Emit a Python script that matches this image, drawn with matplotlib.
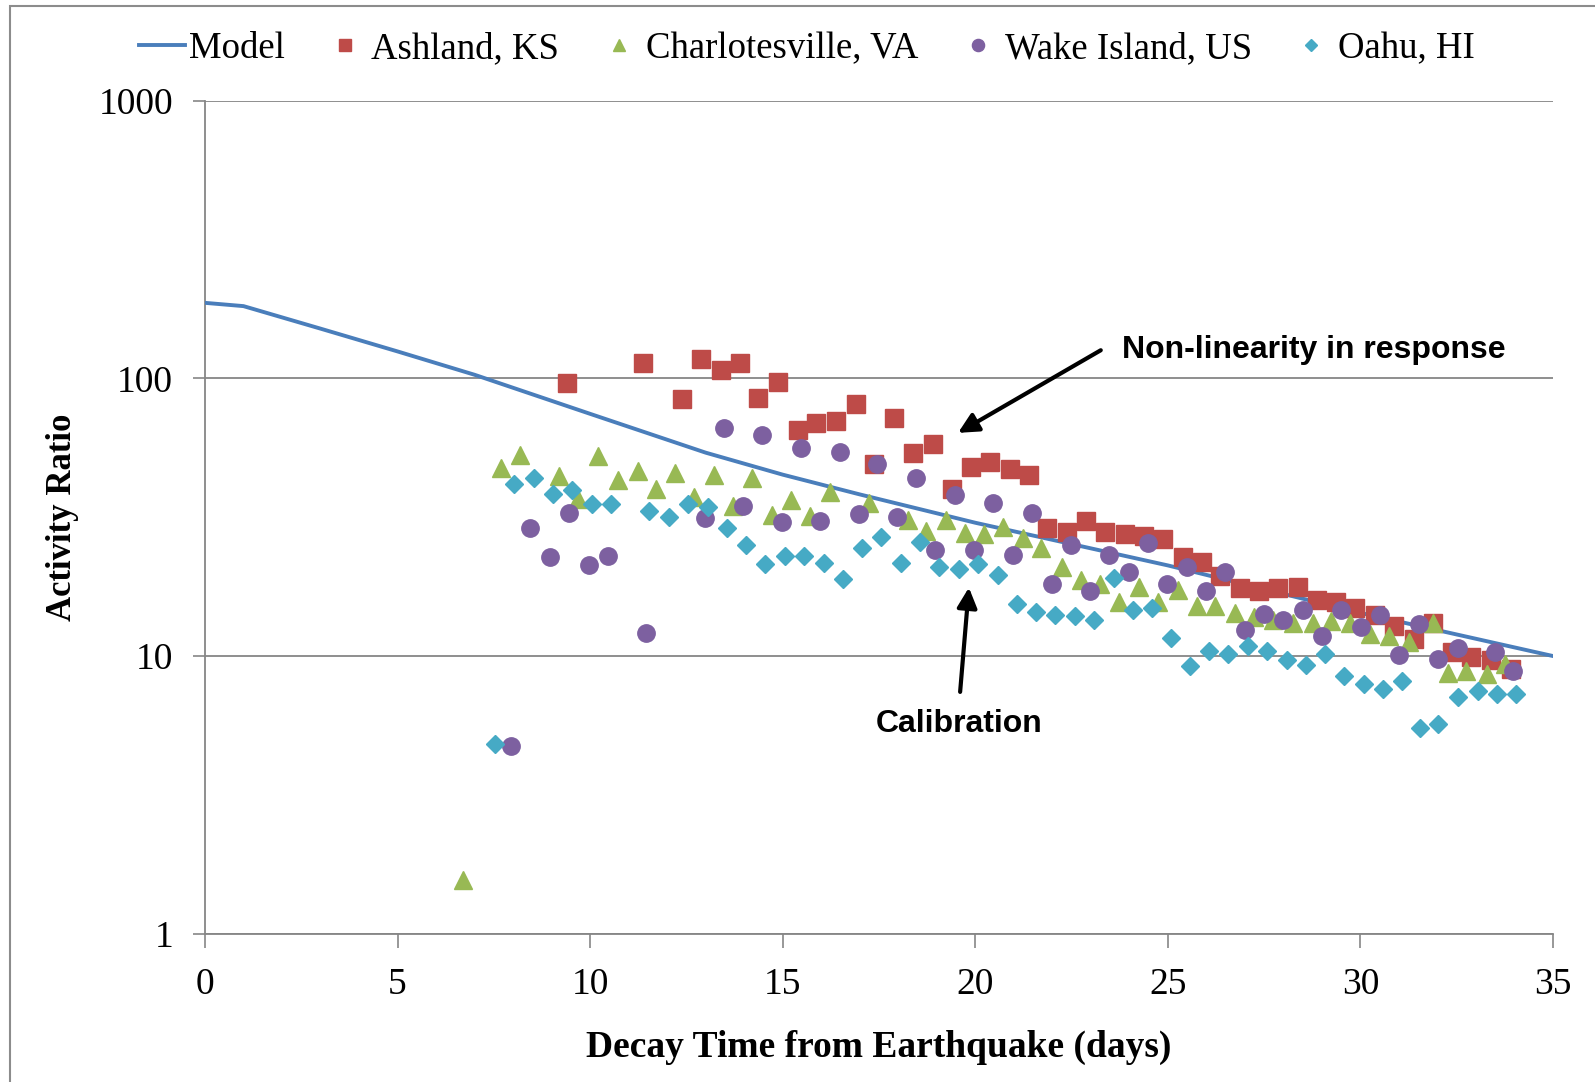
import matplotlib
matplotlib.use("Agg")
import matplotlib.pyplot as plt
from matplotlib.patches import Rectangle

# Model curve (days, activity ratio)
model_x = [0, 1, 3, 5, 7, 10, 13, 15, 17, 20, 25, 30, 35]
model_y = [187, 182, 151, 125, 103, 74.5, 54, 45, 38.2, 30.2, 21.2, 14.3, 10]

ashland_x = [9.40, 11.38, 12.39, 12.89, 13.39, 13.89, 14.37, 14.87, 15.40, 15.87,
             16.38, 16.90, 17.38, 17.88, 18.38, 18.89, 19.39, 19.89, 20.39, 20.89,
             21.40, 21.87, 22.37, 22.87, 23.38, 23.88, 24.38, 24.88, 25.38, 25.88,
             26.36, 26.86, 27.36, 27.87, 28.37, 28.87, 29.37, 29.87, 30.38, 30.88,
             31.38, 31.88, 32.38, 32.88, 33.39, 33.91]
ashland_y = [95.9, 114, 84, 117, 107, 114, 85, 97, 65, 69,
             70, 81, 49, 72, 54, 58, 40, 48, 50, 47,
             45, 29, 28, 30.6, 28, 27.6, 27, 26.5, 22.8, 21.9,
             19.5, 17.6, 17.2, 17.6, 17.7, 15.9, 15.7, 14.9, 14.1, 12.8,
             11.5, 13.2, 10.3, 9.9, 9.7, 9.0]

charl_x = [6.71, 7.69, 8.19, 9.19, 9.69, 10.20, 10.72, 11.23, 11.70, 12.20,
           12.70, 13.21, 13.71, 14.21, 14.71, 15.21, 15.70, 16.22, 17.25, 18.25,
           18.73, 19.23, 19.73, 20.23, 20.73, 21.24, 21.71, 22.24, 22.74, 23.24,
           23.72, 24.25, 24.75, 25.25, 25.75, 26.23, 26.73, 27.23, 27.73, 28.24,
           28.76, 29.24, 29.74, 30.24, 30.75, 31.25, 31.88, 32.28, 32.75, 33.28,
           33.76]
charl_y = [1.56, 47.6, 52.8, 44.6, 36.9, 52.4, 43.0, 46.3, 39.9, 45.6,
           37.5, 44.8, 34.7, 43.6, 32.3, 36.6, 32.0, 38.9, 35.6, 30.9,
           28.3, 30.9, 27.8, 27.5, 29.2, 26.6, 24.5, 21.0, 18.8, 18.2,
           15.6, 17.7, 15.6, 17.3, 15.1, 15.2, 14.3, 13.8, 13.5, 13.2,
           13.2, 13.4, 13.2, 12.0, 11.8, 11.2, 13.2, 8.7, 8.8, 8.6,
           9.4]

wake_x = [7.95, 8.45, 8.95, 9.46, 9.96, 10.46, 11.46, 12.97, 13.47, 13.97,
          14.47, 14.98, 15.48, 15.98, 16.48, 16.98, 17.46, 17.96, 18.46, 18.96,
          19.47, 19.97, 20.47, 20.97, 21.47, 21.98, 22.48, 22.98, 23.48, 23.98,
          24.48, 24.99, 25.49, 25.99, 26.49, 27.00, 27.50, 28.00, 28.50, 29.00,
          29.50, 30.01, 30.51, 31.01, 31.51, 32.01, 32.52, 33.49, 33.97]
wake_y = [4.76, 29.0, 22.7, 32.8, 21.2, 22.9, 12.1, 31.5, 66.2, 34.8,
          62.3, 30.5, 55.9, 30.7, 54.5, 32.6, 49.2, 31.8, 43.8, 24.0,
          37.9, 24.0, 35.7, 23.2, 32.8, 18.2, 25.1, 17.2, 23.2, 20.1,
          25.5, 18.2, 21.0, 17.2, 20.1, 12.4, 14.2, 13.5, 14.6, 11.8,
          14.6, 12.7, 14.1, 10.1, 13.0, 9.75, 10.7, 10.3, 8.85]

oahu_x = [7.53, 8.03, 8.53, 9.03, 9.54, 10.04, 10.54, 11.54, 12.04, 12.55,
          13.05, 13.55, 14.05, 14.55, 15.06, 15.56, 16.06, 16.56, 17.06, 17.56,
          18.07, 18.57, 19.07, 19.57, 20.07, 20.58, 21.08, 21.58, 22.08, 22.58,
          23.09, 23.59, 24.09, 24.59, 25.07, 25.57, 26.07, 26.57, 27.07, 27.58,
          28.08, 28.58, 29.08, 29.58, 30.08, 30.59, 31.09, 31.54, 32.01, 32.54,
          33.04, 33.54, 34.05]
oahu_y = [4.84, 41.6, 43.8, 38.2, 39.5, 35.4, 35.4, 33.4, 31.8, 35.4,
          34.5, 29.0, 25.1, 21.5, 22.9, 22.9, 21.7, 19.0, 24.4, 26.8,
          21.7, 25.7, 21.0, 20.5, 21.5, 19.6, 15.4, 14.4, 14.1, 13.9,
          13.5, 19.1, 14.7, 14.9, 11.6, 9.2, 10.4, 10.2, 10.9, 10.4,
          9.7, 9.3, 10.2, 8.45, 7.96, 7.64, 8.1, 5.5, 5.7, 7.1,
          7.5, 7.3, 7.3]

x_ticks = [0, 5, 10, 15, 20, 25, 30, 35]
y_ticks = [1, 10, 100, 1000]
y_tick_labels = ["1", "10", "100", "1000"]

serif = "Liberation Serif"
sans = "Liberation Sans"

fig = plt.figure(figsize=(15.95, 10.82), dpi=100)
ax = fig.add_axes([0.1285, 0.137, 0.8452, 0.770])

grid_c = "#868686"

h_model, = ax.plot(model_x, model_y, color="#4A7EBB", lw=2.8, label="Model", zorder=3)
h_ash, = ax.plot(ashland_x, ashland_y, ls="none", marker="s", ms=12.5, color="#BE4B48",
                 label="Ashland, KS", zorder=4)
h_cha, = ax.plot(charl_x, charl_y, ls="none", marker="^", ms=13, color="#98B954",
                 label="Charlotesville, VA", zorder=4)
h_wak, = ax.plot(wake_x, wake_y, ls="none", marker="o", ms=12.5, color="#7D60A0",
                 label="Wake Island, US", zorder=4)
h_oah, = ax.plot(oahu_x, oahu_y, ls="none", marker="D", ms=9, color="#46AAC5",
                 label="Oahu, HI", zorder=4)

ax.set_yscale("log")
ax.set_xlim(0, 35)
ax.set_ylim(1, 1000)
ax.set_xticks(x_ticks)
ax.set_xticklabels([str(t) for t in x_ticks], fontfamily=serif, fontsize=27)
ax.set_yticks(y_ticks)
ax.set_yticklabels(y_tick_labels, fontfamily=serif, fontsize=27)
ax.minorticks_off()
ax.tick_params(axis="x", length=10, width=1.2, color=grid_c, pad=14)
ax.tick_params(axis="y", length=9, width=1.2, color=grid_c, pad=14)

for y in y_ticks:
    ax.axhline(y, color=grid_c, lw=1.3, zorder=1)

for s in ["top", "right"]:
    ax.spines[s].set_visible(False)
for s in ["left", "bottom"]:
    ax.spines[s].set_color(grid_c)
    ax.spines[s].set_linewidth(1.3)

ax.set_xlabel("Decay Time from Earthquake (days)", fontfamily=serif, fontsize=27,
              fontweight="bold", labelpad=20)
ax.set_ylabel("Activity Ratio", fontfamily=serif, fontsize=25, fontweight="bold",
              labelpad=14)

arrow = dict(arrowstyle="-|>", color="black", lw=3, mutation_scale=30)
ax.annotate("", xy=(19.49, 62.9), xytext=(23.32, 127.7), arrowprops=arrow)
ax.text(23.82, 127, "Non-linearity in response", fontfamily=sans, fontsize=23,
        fontweight="bold", ha="left", va="center")
ax.annotate("", xy=(19.84, 18.05), xytext=(19.60, 7.26), arrowprops=arrow)
ax.text(19.57, 5.68, "Calibration", fontfamily=sans, fontsize=23, fontweight="bold",
        ha="center", va="center")

fig.legend(handles=[h_model, h_ash, h_cha, h_wak, h_oah], loc="center",
           bbox_to_anchor=(0.506, 0.955), ncol=5, frameon=False, numpoints=1,
           prop={"family": serif, "size": 26.5}, handlelength=1.25,
           handletextpad=0.1, columnspacing=1.0, markerscale=0.7)

# chart-area border
fig.patches.append(Rectangle((10 / 1595, -0.05), 1.1, 1 - 6 / 1082 + 0.05,
                             transform=fig.transFigure, fill=False,
                             edgecolor="#8c8c8c", lw=1.5))

fig.savefig("out.png", dpi=100)
